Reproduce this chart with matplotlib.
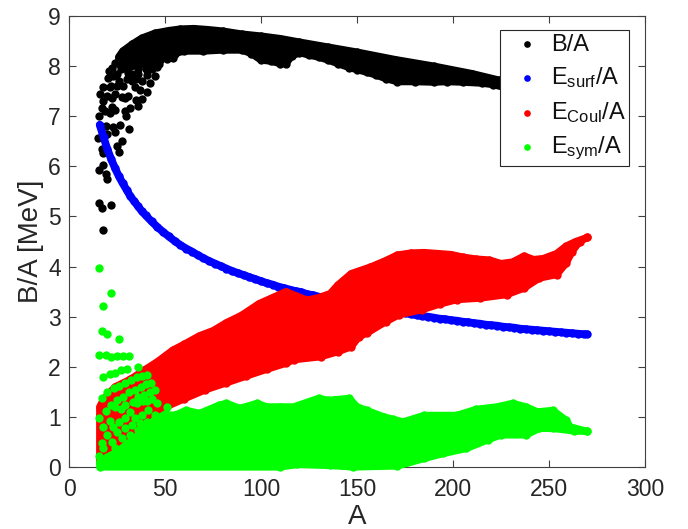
import numpy as np
import matplotlib
matplotlib.use('Agg')
import matplotlib.pyplot as plt

# ---- B/A : scattered light nuclei
ba_pts_A = [17.9,15.8,17.2,21.9,15.8,17.9,19.1,19.8,15.3,17,17.5,25.9,25.2,27.8,19.3,20,24,23.1,26.6,31.2,
            15.8,17,21.4,24,22.2,31.8,29.7,29.2,36,37.9,34.9,16.1,17.9,17.9,21.4,20.5,22.2,24,26.2,22.2,
            27.4,30.9,29.2,40.8,37,34.4,42.2,44.8,40.5,36.1,30.9,45.7,41.3,35.2,54.3,50.9,47.4,
            19,20,22,24,26,28,30,33,28,31,33,35,38,40,43,25,23,27,34,38,30,44,21,25,36,47,33]
ba_pts_v = [4.73,5.27,5.17,5.23,5.93,6.03,5.85,5.74,6.57,6.34,6.26,6.29,6.41,6.51,6.8,6.65,6.69,6.79,6.82,6.75,
            7.0,7.16,7.06,7.12,7.19,7.16,7.0,7.1,7.21,7.34,7.32,7.44,7.31,7.59,7.59,7.77,7.96,8.06,8.19,7.36,
            7.39,7.4,7.36,7.48,7.52,7.58,7.67,7.8,7.82,7.84,7.86,7.98,7.99,8.02,8.16,8.14,8.12,
            7.1,7.4,7.6,7.45,7.7,7.6,7.75,7.7,8.0,8.1,8.05,7.75,7.7,7.95,7.95,7.85,7.8,7.95,8.2,8.1,7.95,8.1,7.9,7.6,7.95,8.05,7.85]
# B/A dense band outline
ba_top_A = [26,28,33,38,45,52,58,65,72,80,90,100,110,120,135,150,170,190,210,224,245,270]
ba_top_v = [8.19,8.3,8.44,8.56,8.66,8.71,8.74,8.75,8.73,8.70,8.64,8.6,8.55,8.48,8.38,8.28,8.13,8.0,7.85,7.72,7.5,7.3]
ba_low_A = [26,30,35,40,45,50,55,60,70,80,90,95,100,105,110,113,116,120,125,130,135,140,146,150,155,160,165,171,
            180,190,197,205,215,221,245,270]
ba_low_v = [8.05,7.95,8.02,8.02,8.08,8.2,8.25,8.3,8.3,8.32,8.32,8.25,8.12,8.1,8.05,8.05,8.2,8.27,8.22,8.18,8.12,
            8.05,7.97,7.93,7.88,7.82,7.75,7.69,7.69,7.68,7.69,7.68,7.66,7.63,7.4,7.2]

# ---- E_surf/A
surf_A = [16,18,20,22,24,26,28,30,32,34,36,38,40,43,46,49,52,55,58,61,64,67,70,73,76,79,82,85,88,91,94,97,100,103,
          106,109,112,115,118,121,124,127,130,133,136,139,142,145,148,151,154,157,160,163,166,169,172,175,178,181,
          184,187,190,193,196,199,202,205,208,211,214,217,220,223,226,229,232,235,238,241,244,247,250,253,256,259,
          262,265,268,270]
surf_v = [6.83,6.58,6.34,6.14,5.96,5.80,5.66,5.53,5.40,5.30,5.20,5.10,5.02,4.90,4.79,4.69,4.60,4.51,4.43,4.36,4.30,
          4.23,4.17,4.11,4.06,4.01,3.96,3.91,3.87,3.83,3.79,3.75,3.71,3.67,3.64,3.60,3.57,3.54,3.51,3.49,3.45,3.43,
          3.40,3.37,3.35,3.33,3.30,3.28,3.26,3.23,3.21,3.19,3.17,3.15,3.13,3.11,3.09,3.07,3.05,3.03,3.01,3.00,2.98,
          2.96,2.95,2.93,2.92,2.90,2.89,2.87,2.86,2.84,2.83,2.82,2.80,2.79,2.78,2.76,2.75,2.74,2.73,2.72,2.71,2.70,
          2.69,2.68,2.67,2.66,2.65,2.65]

# ---- E_Coul/A band outline
coul_top_A = [16,18,24,32,39,46,54,60,68,75,82,90,99,106,113,118,124,130,136,140,147,157,165,171,178,185,192,199,205,
              212,219,225,231,237,242,247,254,259,264,270]
coul_top_v = [1.2,1.35,1.6,1.75,1.93,2.1,2.33,2.45,2.62,2.72,2.88,3.03,3.26,3.38,3.5,3.42,3.33,3.38,3.46,3.63,3.86,
              3.99,4.12,4.23,4.27,4.28,4.26,4.24,4.19,4.15,4.13,4.06,4.09,4.21,4.14,4.16,4.26,4.41,4.5,4.58]
coul_low_A = [16,25,35,45,51,60,71,82,92,103,113,117,131,140,147,151,155,165,172,184,193,202,214,228,237,245,254,259,
              262,266,270]
coul_low_v = [0.1,0.2,0.4,0.8,1.21,1.36,1.54,1.68,1.81,1.95,2.07,2.14,2.2,2.3,2.4,2.6,2.67,2.9,3.04,3.14,3.25,3.34,
              3.37,3.44,3.57,3.77,3.84,4.07,4.3,4.5,4.58]

# ---- E_sym/A : scattered light nuclei
sym_pts_A = [15.8,21.9,17.9,17.2,19.8,25.9,15.8,19.1,21.9,25.2,28,31.2,17.9,21.3,24,27.3,30,36,
             17.2,19.8,23.3,26.2,29.2,32.1,35.2,38.2,40.8,21.9,25.2,28,31.2,34.2,37.3,40.1,42.9,
             19.1,24,29.2,33.2,36.1,39.2,42,44.8,15.8,21.4,27.1,31.8,35.2,38.4,40.8,43.2,46,50.9,
             17.9,23.1,26,29.3,34.4,37.8,41.3,20,25.2,29.2,32.6,37,17,22.2,27.4,31.8,36.1,40.5,44.8,
             15.8,17.9,24,30,36.1,42.2,47.4,55.2]
sym_pts_v = [3.98,3.47,3.21,2.72,2.65,2.55,2.23,2.23,2.2,2.21,2.21,2.21,1.80,1.85,1.88,1.93,1.96,2.0,
             1.38,1.49,1.57,1.62,1.68,1.74,1.79,1.82,1.84,1.24,1.34,1.40,1.49,1.54,1.59,1.65,1.68,
             1.12,1.20,1.24,1.30,1.39,1.44,1.49,1.54,0.97,0.92,1.16,1.10,1.27,1.32,1.32,1.36,1.27,1.20,
             0.79,0.80,0.90,0.97,0.97,1.04,1.14,0.64,0.70,0.77,0.84,0.87,0.47,0.50,0.57,0.64,0.74,0.90,1.04,
             0.21,0.37,0.37,0.44,0.54,0.70,0.87,1.04]
# E_sym/A dense band outline
sym_top_A = [16,20,25,30,35,40,45,50,55,61,68,78,82,89,98,103,110,117,130,135,146,150,155,164,169,174,185,202,212,
             223,231,238,244,252,259,261,270]
sym_top_v = [0.1,0.2,0.3,0.45,0.6,0.8,0.95,1.05,1.03,1.13,1.07,1.23,1.27,1.17,1.27,1.2,1.2,1.2,1.37,1.33,1.37,1.2,
             1.13,1.0,0.95,0.9,1.03,1.03,1.15,1.2,1.27,1.2,1.1,1.13,0.93,0.8,0.71]
sym_low_A = [16,110,119,136,148,171,185,195,207,218,225,238,245,252,263,270]
sym_low_v = [0,0,0.05,0.03,0,0.02,0.17,0.27,0.37,0.54,0.64,0.64,0.77,0.77,0.72,0.71]

series_labels = ['B/A', r'E$_{\mathrm{surf}}$/A', r'E$_{\mathrm{Coul}}$/A', r'E$_{\mathrm{sym}}$/A']
x_ticks = [0, 50, 100, 150, 200, 250, 300]
y_ticks = [0, 1, 2, 3, 4, 5, 6, 7, 8, 9]

plt.rcParams['font.family'] = ['Liberation Sans', 'DejaVu Sans']
plt.rcParams['mathtext.fontset'] = 'custom'
plt.rcParams['mathtext.rm'] = 'Liberation Sans'
plt.rcParams['mathtext.default'] = 'rm'

fig = plt.figure(figsize=(6.88, 5.29), dpi=100)
ax = fig.add_axes([69/688, (529-467)/529, 576/688, 451/529])

DOT = 36   # marker area, pt^2
EDGE = 5.2 # outline width, a little under the dot diameter, pt


def band(top_A, top_v, low_A, low_v, color, z):
    xs = np.r_[top_A, low_A[::-1]]
    ys = np.r_[top_v, low_v[::-1]]
    ax.fill(xs, ys, facecolor=color, edgecolor=color, lw=EDGE, joinstyle='round', zorder=z, clip_on=False)
    ax.scatter(xs, ys, s=DOT, c=color, lw=0, zorder=z, clip_on=False)


band(ba_top_A, ba_top_v, ba_low_A, ba_low_v, 'k', 2)
ax.scatter(ba_pts_A, ba_pts_v, s=DOT, c='k', lw=0, zorder=2, label=series_labels[0], clip_on=False)
ax.plot(surf_A, surf_v, color='#0000ff', lw=5.6, zorder=3, solid_capstyle='round')
ax.scatter(surf_A, surf_v, s=DOT, c='#0000ff', lw=0, zorder=3, label=series_labels[1], clip_on=False)
band(coul_top_A, coul_top_v, coul_low_A, coul_low_v, '#ff0000', 4)
ax.scatter([], [], s=DOT, c='#ff0000', lw=0, label=series_labels[2])
band(sym_top_A, sym_top_v, sym_low_A, sym_low_v, '#00ff00', 5)
ax.scatter(sym_pts_A, sym_pts_v, s=DOT, c='#00ff00', lw=0, zorder=5, label=series_labels[3], clip_on=False)

ax.set_xlim(0, 300)
ax.set_ylim(0, 9)
ax.set_xticks(x_ticks)
ax.set_yticks(y_ticks)
ax.tick_params(direction='in', top=True, right=True, length=5, width=0.8, color='#404040',
               labelcolor='#262626', labelsize=16.5, pad=6)
ax.tick_params(axis='x', pad=8)
for s in ax.spines.values():
    s.set_color('#404040')
    s.set_linewidth(0.8)
    s.set_zorder(1)
ax.set_xlabel('A', fontsize=20, color='#262626', labelpad=2)
ax.set_ylabel('B/A [MeV]', fontsize=20, color='#262626', labelpad=3)

leg = ax.legend(loc='upper left', bbox_to_anchor=((500-69)/576, (467-30)/451), borderaxespad=0,
                fontsize=17, frameon=True, fancybox=False, framealpha=1, edgecolor='#262626',
                handletextpad=0.0, labelspacing=0.42, borderpad=0.15, markerscale=0.8)
leg.get_frame().set_linewidth(0.8)
leg.set_zorder(10)
for t in leg.get_texts():
    t.set_color('#111111')

fig.savefig('out.png', dpi=100)
